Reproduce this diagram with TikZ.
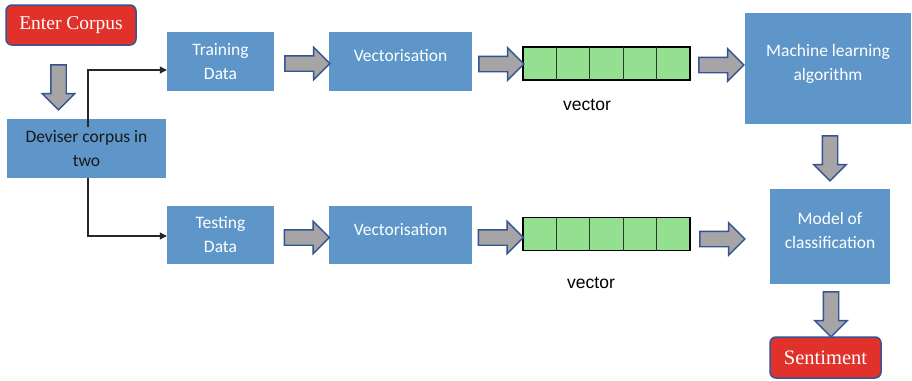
\documentclass[tikz,border=0pt]{standalone}
\usepackage{fontspec}
\setmainfont{Carlito}
\newfontfamily\capserif{Liberation Serif}
\newfontfamily\plainsans{Liberation Sans}
\usetikzlibrary{shapes.arrows,calc,arrows.meta}

\definecolor{boxblue}{RGB}{94,150,201}
\definecolor{redfill}{RGB}{224,49,42}
\definecolor{edgeblue}{RGB}{52,84,148}
\definecolor{arrowgray}{RGB}{166,164,165}
\definecolor{cellgreen}{RGB}{148,224,145}

% text block raised a little inside its box
\newcommand{\liftup}[1]{\raisebox{4.5pt}[\height][\depth]{\begin{tabular}{@{}c@{}}#1\end{tabular}}}

\begin{document}
\begin{tikzpicture}[x=1pt,y=-1pt,
  bluebox/.style={rectangle, fill=boxblue, text=white, inner sep=0pt, align=center,
    font=\fontsize{17.5}{24}\selectfont},
  redbox/.style={rectangle, rounded corners=6pt, fill=redfill, draw=edgeblue, line width=1.5pt,
    text=white, inner sep=0pt, font=\capserif\fontsize{19.5}{24}\selectfont},
  blockarrow/.style={single arrow, fill=arrowgray, draw=edgeblue, line width=1.4pt,
    inner sep=7pt, single arrow head extend=8.5pt,
    minimum width=31pt, minimum height=45pt},
  vectorbar/.style={rectangle, draw=black, line width=1.2pt, fill=cellgreen, inner sep=0pt,
    outer sep=0pt, minimum width=167pt, minimum height=33pt},
  veclabel/.style={anchor=base, font=\plainsans\fontsize{17.5}{20}\selectfont},
  conn/.style={draw=black!85, line width=1.1pt, -{Triangle[length=7pt,width=7pt]}}
]
\fill[white] (0,0) rectangle (912,380);
\useasboundingbox (0,0) rectangle (912,380);

% boxes
\node[redbox, minimum width=130pt, minimum height=40pt] (enter) at (71,25) {Enter Corpus};
\node[bluebox, text=black!90, minimum width=159pt, minimum height=59pt] (deviser) at (86.5,148.5) {Deviser corpus in\\two};
\node[bluebox, minimum width=107pt, minimum height=59pt] (train) at (220.5,61.5) {Training\\Data};
\node[bluebox, minimum width=143pt, minimum height=59pt] (vec1) at (400.5,61.5) {\liftup{Vectorisation}};
\node[bluebox, minimum width=107pt, minimum height=58pt] (test) at (220.5,235) {Testing\\Data};
\node[bluebox, minimum width=143pt, minimum height=58pt] (vec2) at (400.5,235) {\liftup{Vectorisation}};
\node[bluebox, minimum width=166pt, minimum height=111pt] (ml) at (828,68.5) {\liftup{Machine learning\\algorithm}};
\node[bluebox, minimum width=120pt, minimum height=95pt] (model) at (830,236.5) {\liftup{Model of\\classification}};
\node[redbox, minimum width=111pt, minimum height=41pt, font=\capserif\fontsize{20.5}{24}\selectfont] (sent) at (825.5,357.5) {Sentiment};

% vectors with five cells
\node[vectorbar] (vecA) at (606.5,63.5) {};
\node[vectorbar] (vecB) at (606.5,234) {};
\foreach \v in {vecA,vecB}{
  \foreach \i in {1,...,4}{
    \draw[line width=1pt, black!80] ($(\v.north west)!\i/5!(\v.north east)$) -- ($(\v.south west)!\i/5!(\v.south east)$);
  }
}
\node[veclabel] (labA) at (587,110) {vector};
\node[veclabel] (labB) at (591,288) {vector};

% block arrows
\node[blockarrow, shape border rotate=270] (ar1) at (58.5,83.5) {};
\node[blockarrow] (ar2) at (303.5,63.5) {};
\node[blockarrow] (ar3) at (497.5,64) {};
\node[blockarrow] (ar4) at (717.5,65) {};
\node[blockarrow, shape border rotate=270] (ar5) at (830,154.5) {};
\node[blockarrow] (ar6) at (303,237.5) {};
\node[blockarrow] (ar7) at (497,237.5) {};
\node[blockarrow] (ar8) at (718.5,239) {};
\node[blockarrow, shape border rotate=270] (ar9) at (831,310.5) {};

% split connectors
\draw[conn] ($(deviser.north)+(1.5,8)$) |- ($(train.west)+(0,8.5)$);
\draw[conn] ($(deviser.south)+(1.5,0)$) |- ($(test.west)+(0,1)$);
\end{tikzpicture}
\end{document}
